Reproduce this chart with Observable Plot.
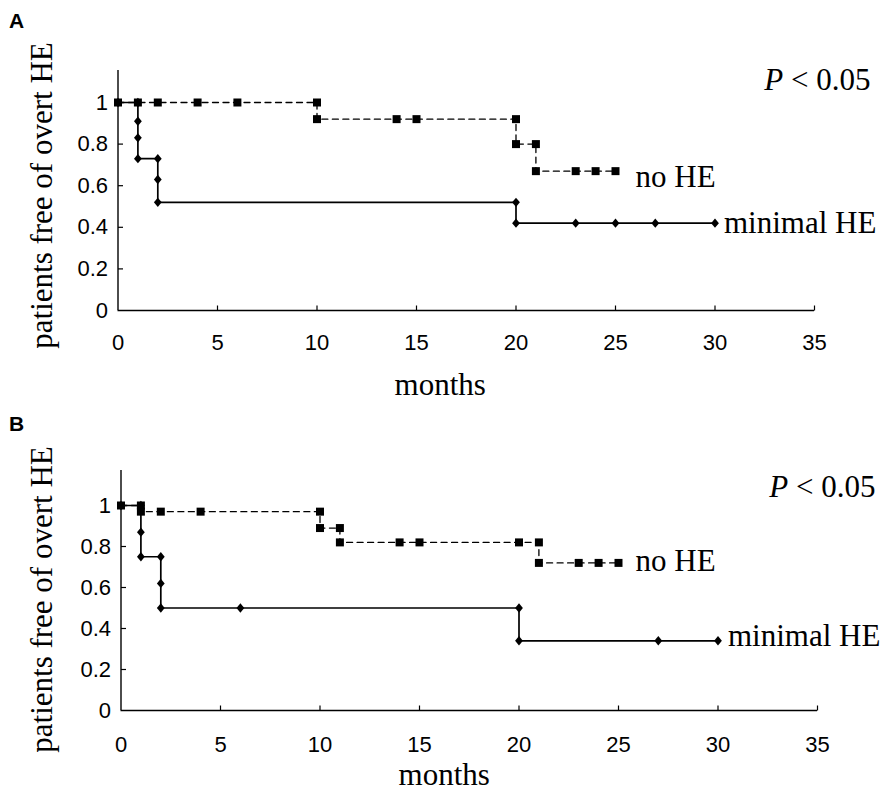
<!DOCTYPE html>
<html><head><meta charset="utf-8">
<script src="https://cdn.jsdelivr.net/npm/d3@7"></script>
<script src="https://cdn.jsdelivr.net/npm/@observablehq/plot@0.6"></script>
<style>
html,body{margin:0;padding:0;background:#fff;}
#chart{width:880px;height:797px;position:relative;overflow:hidden;}
#chart svg{display:block;}
</style></head><body><div id="chart"></div>
<script>
// ---- Data ----
// Panel A
const monthsA_noHE  = [0, 1, 2, 4, 6, 10, 10, 14, 15, 20, 20, 21, 21, 23, 24, 25];
const freeA_noHE    = [1, 1, 1, 1, 1, 1, 0.92, 0.92, 0.92, 0.92, 0.8, 0.8, 0.67, 0.67, 0.67, 0.67];
const monthsA_minHE = [0, 1, 1, 1, 1, 2, 2, 2, 20, 20, 23, 25, 27, 30];
const freeA_minHE   = [1, 1, 0.91, 0.83, 0.73, 0.73, 0.63, 0.52, 0.52, 0.42, 0.42, 0.42, 0.42, 0.42];
// Panel B
const monthsB_noHE  = [0, 1, 1, 2, 4, 10, 10, 11, 11, 14, 15, 20, 21, 21, 23, 24, 25];
const freeB_noHE    = [1, 1, 0.97, 0.97, 0.97, 0.97, 0.89, 0.89, 0.82, 0.82, 0.82, 0.82, 0.82, 0.72, 0.72, 0.72, 0.72];
const monthsB_minHE = [0, 1, 1, 1, 2, 2, 2, 6, 20, 20, 27, 30];
const freeB_minHE   = [1, 1, 0.87, 0.75, 0.75, 0.62, 0.5, 0.5, 0.5, 0.34, 0.34, 0.34];

const xTicks = [0, 5, 10, 15, 20, 25, 30, 35];
const yTicks = [0, 0.2, 0.4, 0.6, 0.8, 1];
const yTickLabels = ["0", "0.2", "0.4", "0.6", "0.8", "1"];
const seriesNames = ["no HE", "minimal HE"];
const panelLetters = ["A", "B"];
const xTitle = "months";
const yTitle = "patients free of overt HE";
const pText = "P < 0.05";

// ---- Drawing ----
const serif = "'Liberation Serif','Times New Roman',Times,serif";
const sans = "'Liberation Sans',Arial,Helvetica,sans-serif";

const tickUp = {draw(ctx) { ctx.moveTo(0, 0); ctx.lineTo(0, -5); }};
const tickRight = {draw(ctx) { ctx.moveTo(0, 0); ctx.lineTo(5, 0); }};
const squareSym = {draw(ctx) { const s = 4; ctx.moveTo(-s, -s); ctx.lineTo(s, -s); ctx.lineTo(s, s); ctx.lineTo(-s, s); ctx.closePath(); }};
const diamondSym = {draw(ctx) { const w = 3.9, h = 4.7; ctx.moveTo(0, -h); ctx.lineTo(w, 0); ctx.lineTo(0, h); ctx.lineTo(-w, 0); ctx.closePath(); }};

function rows(xs, ys, s) { return xs.map((x, i) => ({month: x, free: ys[i], series: s})); }

function panel(c) {
  const noHE = rows(c.mNo, c.fNo, seriesNames[0]);
  const minHE = rows(c.mMin, c.fMin, seriesNames[1]);
  const lastNo = noHE[noHE.length - 1];
  const lastMin = minHE[minHE.length - 1];
  const svg = Plot.plot({
    width: 880, height: c.height,
    marginTop: c.mt, marginBottom: c.mb, marginLeft: c.ml, marginRight: c.mr,
    style: {fontFamily: sans, fontSize: "22px", color: "black", background: "white", overflow: "visible"},
    x: {domain: [0, 35]},
    y: {domain: [0, c.ymax]},
    marks: [
      Plot.ruleY([0], {stroke: "black", strokeWidth: 1.6}),
      Plot.ruleX([0], {stroke: "black", strokeWidth: 1.4}),
      Plot.dot(xTicks.slice(1), {x: d => d, y: () => 0, symbol: tickUp, stroke: "black", strokeWidth: 1.2, fill: "none"}),
      Plot.dot(yTicks.slice(1), {x: () => 0, y: d => d, symbol: tickRight, stroke: "black", strokeWidth: 1.2, fill: "none"}),
      Plot.axisX(xTicks, {tickSize: 0, tickPadding: c.xPad, label: null, fontSize: 22, fill: "black"}),
      Plot.axisY(yTicks, {tickSize: 0, tickPadding: 10, label: null, fontSize: 22, fill: "black",
        tickFormat: d => yTickLabels[yTicks.indexOf(d)]}),
      Plot.line(noHE, {x: "month", y: "free", curve: "step-after", stroke: "black", strokeWidth: 1.3, strokeDasharray: "6,4.5"}),
      Plot.line(minHE, {x: "month", y: "free", curve: "step-after", stroke: "black", strokeWidth: 1.7}),
      Plot.dot(noHE, {x: "month", y: "free", symbol: squareSym, fill: "black", stroke: "none"}),
      Plot.dot(minHE, {x: "month", y: "free", symbol: diamondSym, fill: "black", stroke: "none"}),
      Plot.text([lastNo], {x: "month", y: "free", text: "series", textAnchor: "start", lineAnchor: "middle", dx: c.noDx, dy: c.noDy,
        fontFamily: serif, fontSize: 31, fill: "black"}),
      Plot.text([lastMin], {x: "month", y: "free", text: "series", textAnchor: "start", lineAnchor: "middle", dx: c.minDx, dy: c.minDy,
        fontFamily: serif, fontSize: 31, fill: "black"}),
      Plot.text([pText], {text: d => d, frameAnchor: "top-right", textAnchor: "end", lineAnchor: "middle", dx: c.pDx, dy: c.pDy,
        fontFamily: serif, fontSize: 31, fill: "black"}),
      Plot.text([xTitle], {text: d => d, frameAnchor: "bottom", textAnchor: "middle", lineAnchor: "middle", dx: c.mDx, dy: c.mDy,
        fontFamily: serif, fontSize: 31, fill: "black"}),
      Plot.text([yTitle], {text: d => d, frameAnchor: "left", textAnchor: "middle", lineAnchor: "middle", rotate: -90, dx: c.yDx, dy: c.yDy,
        fontFamily: serif, fontSize: 31, fill: "black"}),
      Plot.text([c.letter], {text: d => d, frameAnchor: "top-left", textAnchor: "middle", lineAnchor: "middle", dx: c.lDx, dy: c.lDy,
        fontFamily: sans, fontWeight: "bold", fontSize: 21, fill: "black"})
    ]
  });
  // italic P in the significance note
  svg.querySelectorAll("text").forEach(t => {
    if (t.textContent === pText) {
      t.textContent = "";
      const a = document.createElementNS("http://www.w3.org/2000/svg", "tspan");
      a.setAttribute("font-style", "italic");
      a.textContent = "P";
      const b = document.createElementNS("http://www.w3.org/2000/svg", "tspan");
      b.textContent = pText.slice(1);
      t.appendChild(a); t.appendChild(b);
    }
  });
  return svg;
}

const chart = document.getElementById("chart");
chart.appendChild(panel({
  letter: panelLetters[0], mNo: monthsA_noHE, fNo: freeA_noHE, mMin: monthsA_minHE, fMin: freeA_minHE,
  height: 400, mt: 70, mb: 90, ml: 117.5, mr: 66, ymax: 240 / 208, xPad: 24,
  noDx: 20, noDy: 6, minDx: 9, minDy: 0, pDx: 56, pDy: 10,
  mDx: -26, mDy: 75, yDx: -75.5, yDy: 5, lDx: -101.5, lDy: -49
}));
chart.appendChild(panel({
  letter: panelLetters[1], mNo: monthsB_noHE, fNo: freeB_noHE, mMin: monthsB_minHE, fMin: freeB_minHE,
  height: 397, mt: 70, mb: 87, ml: 120.5, mr: 63, ymax: 240 / 205, xPad: 26,
  noDx: 17, noDy: -2, minDx: 10, minDy: -5, pDx: 58, pDy: 17,
  mDx: -25, mDy: 65, yDx: -78.5, yDy: 9, lDx: -104.5, lDy: -46
}));
</script>
</body></html>
